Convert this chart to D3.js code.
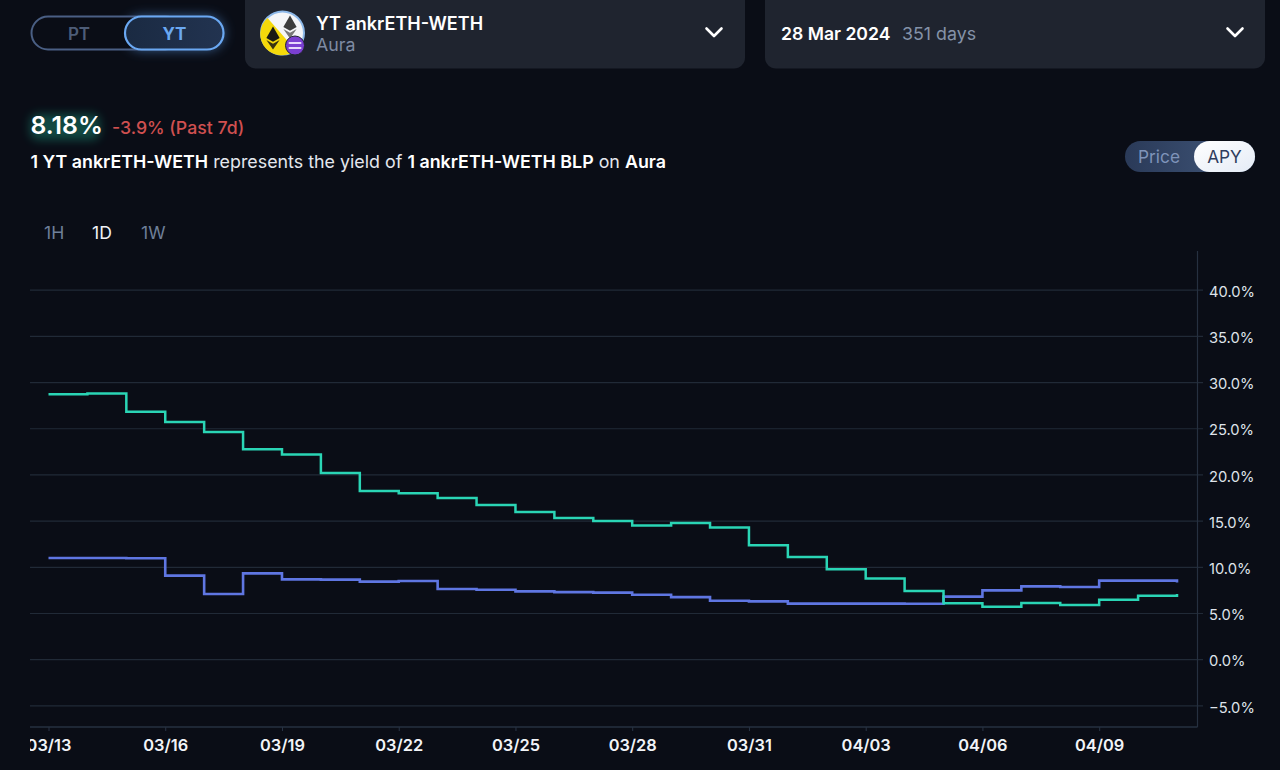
<!DOCTYPE html>
<html><head><meta charset="utf-8">
<script src="https://cdn.jsdelivr.net/npm/d3@7"></script>
<style>
html,body{margin:0;padding:0;background:#0a0d16;overflow:hidden}
svg{display:block}
text{font-family:Inter,"Noto Sans",sans-serif}
.yaxis text{font-size:14.7px;fill:#dfe3ea;font-weight:400}
.xaxis text{font-size:16.4px;fill:#f2f4f8;font-weight:600}
</style></head><body>
<svg id="c" width="1280" height="770" xmlns="http://www.w3.org/2000/svg"></svg>
<script>
const days=["2024-03-13","2024-03-14","2024-03-15","2024-03-16","2024-03-17","2024-03-18","2024-03-19","2024-03-20","2024-03-21","2024-03-22","2024-03-23","2024-03-24","2024-03-25","2024-03-26","2024-03-27","2024-03-28","2024-03-29","2024-03-30","2024-03-31","2024-04-01","2024-04-02","2024-04-03","2024-04-04","2024-04-05","2024-04-06","2024-04-07","2024-04-08","2024-04-09","2024-04-10","2024-04-11"];
const impliedApy=[28.74,28.82,26.83,25.74,24.66,22.78,22.21,20.22,18.27,18.02,17.51,16.75,15.99,15.34,15.02,14.52,14.80,14.30,12.38,11.12,9.78,8.78,7.43,6.10,5.74,6.13,5.92,6.50,6.93,7.11];
const underlyingApy=[11.01,11.01,10.98,9.10,7.11,9.35,8.70,8.67,8.45,8.52,7.65,7.58,7.40,7.32,7.26,7.04,6.78,6.39,6.32,6.07,6.07,6.07,6.05,6.83,7.51,7.94,7.87,8.56,8.56,8.37];
const yTicks=[-5,0,5,10,15,20,25,30,35,40];
const xTicks=["2024-03-13","2024-03-16","2024-03-19","2024-03-22","2024-03-25","2024-03-28","2024-03-31","2024-04-03","2024-04-06","2024-04-09"];
const timeframes=["1H","1D","1W"];

const parse=d3.utcParse("%Y-%m-%d");
const svg=d3.select("#c");
const defs=svg.append("defs");
function grad(id,stops,x2=1,y2=0){const g=defs.append("linearGradient").attr("id",id).attr("x1",0).attr("y1",0).attr("x2",x2).attr("y2",y2);
  stops.forEach(([o,c])=>g.append("stop").attr("offset",o).attr("stop-color",c));}
grad("pill",[[0,"#1a2a42"],[1,"#223350"]]);
grad("tog",[[0,"#2a3a58"],[1,"#42587c"]]);
grad("apy",[[0,"#ffffff"],[1,"#e4ebf6"]],1,1);
function blur(id,s){defs.append("filter").attr("id",id).attr("x","-50%").attr("y","-80%").attr("width","200%").attr("height","260%").append("feGaussianBlur").attr("stdDeviation",s);}
blur("g6",6);blur("g4",5);

// Chrome: cards
svg.append("rect").attr("x",245).attr("y",-20).attr("width",500).attr("height",88.5).attr("rx",11).attr("fill","#1f242f");
svg.append("rect").attr("x",765).attr("y",-20).attr("width",500).attr("height",88.5).attr("rx",11).attr("fill","#1f242f");

// PT/YT toggle
svg.append("rect").attr("x",125).attr("y",16).attr("width",99).attr("height",34).attr("rx",17).attr("fill","#5ea2f0").attr("opacity",.55).attr("filter","url(#g6)");
svg.append("rect").attr("x",31.5).attr("y",16.5).attr("width",150).attr("height",33).attr("rx",16.5).attr("fill","#0a0d16").attr("stroke","#4a5f84").attr("stroke-width",2);
svg.append("rect").attr("x",125).attr("y",16.5).attr("width",98.5).attr("height",33).attr("rx",16.5).attr("fill","url(#pill)").attr("stroke","#6aa8f2").attr("stroke-width",2.2);
const txt=(x,y,s,size,fill,weight=400,anchor="start")=>svg.append("text").attr("x",x).attr("y",y).attr("font-size",size).attr("fill",fill).attr("font-weight",weight).attr("text-anchor",anchor).text(s);
txt(79,39.5,"PT",17,"#4d5c77",600,"middle");
txt(174.5,39.5,"YT",17,"#6aa8f2",700,"middle");

// Token icon
const ic=svg.append("g").attr("transform","translate(282.5,33)");
ic.append("circle").attr("r",21.5).attr("fill","#f4f5f7").attr("stroke","#8db8e8").attr("stroke-width",2);
ic.append("path").attr("d","M-15,-15 L13,17 A20.6,20.6 0 0 1 -15,-15 Z").attr("fill","#f5d90a");
function eth(dx,dy,c1,c2,k){const g=ic.append("g").attr("transform",`translate(${dx},${dy}) scale(${k})`);
  g.append("path").attr("d","M0,-12 L7,0 L0,4 L-7,0 Z").attr("fill",c1);
  g.append("path").attr("d","M0,6 L7,2 L0,12 L-7,2 Z").attr("fill",c2);}
eth(-9.5,5,"#1b1b14","#3a3410",.95);
eth(7.5,-6,"#3c3c3c","#777",.95);
ic.append("circle").attr("cx",12.5).attr("cy",12.5).attr("r",9.5).attr("fill","#7a3fd0").attr("stroke","#1f242f").attr("stroke-width",1);
ic.append("rect").attr("x",6).attr("y",9).attr("width",13).attr("height",2).attr("rx",1).attr("fill","#e6d8fb");
ic.append("rect").attr("x",6).attr("y",14).attr("width",13).attr("height",2).attr("rx",1).attr("fill","#e6d8fb");

txt(316,29.5,"YT ankrETH-WETH",18,"#ffffff",600);
txt(316,50.5,"Aura",17.8,"#7e8ba3",400);
txt(781,39.5,"28 Mar 2024",17.6,"#ffffff",600);
txt(902,39.5,"351 days",17.8,"#8492a8",400);
const chev=x=>svg.append("path").attr("d",`M${x-7.5},28.5 L${x},36 L${x+7.5},28.5`).attr("fill","none").attr("stroke","#fff").attr("stroke-width",2.6).attr("stroke-linecap","round").attr("stroke-linejoin","round");
chev(714);chev(1235);

// Headline
svg.append("rect").attr("x",30).attr("y",114).attr("width",70).attr("height",26).attr("rx",8).attr("fill","#23d2a8").attr("opacity",.3).attr("filter","url(#g4)");
txt(30.5,134,"8.18%",24.8,"#ffffff",600);
txt(112,134,"-3.9% (Past 7d)",17.7,"#d05050",500);
const desc=svg.append("text").attr("x",30.5).attr("y",167.5).attr("font-size",17.85).attr("fill","#e4e7ee");
[["1 YT ankrETH-WETH",600,"#fff"],[" represents the yield of ",400,"#e4e7ee"],["1 ankrETH-WETH BLP",600,"#fff"],[" on ",400,"#e4e7ee"],["Aura",600,"#fff"]]
 .forEach(([s,w,f])=>desc.append("tspan").attr("font-weight",w).attr("fill",f).attr("xml:space","preserve").style("white-space","pre").text(s));

// Price / APY toggle
svg.append("rect").attr("x",1125).attr("y",141).attr("width",130).attr("height",31).attr("rx",15.5).attr("fill","url(#tog)");
svg.append("rect").attr("x",1194).attr("y",141).attr("width",61).attr("height",31).attr("rx",15.5).attr("fill","url(#apy)");
txt(1159,163,"Price",17.3,"#7f94ba",400,"middle");
txt(1224.5,163,"APY",17.3,"#2f3d5e",400,"middle");

// Timeframes
[[44,"#6e7f99"],[92,"#f0f2f6"],[141,"#6e7f99"]].forEach(([x,c],i)=>txt(x,238.5,timeframes[i],17.6,c,400));

// Scales
const x=d3.scaleUtc().domain([parse(days[0]),parse(days[29])]).range([48.5,1177]);
const y=d3.scaleLinear().domain([-5,40]).range([705.9,290.2]);

// Y axis with grid
const yAxis=d3.axisRight(y).tickValues(yTicks).tickSize(0).tickPadding(0)
  .tickFormat(d=>(d<0?"\u2212":"")+Math.abs(d).toFixed(1)+"%");
const gy=svg.append("g").attr("class","yaxis").attr("transform","translate(1209,0)").call(yAxis);
gy.select(".domain").remove();
gy.selectAll("text").attr("x",0).attr("dy","0.42em");
svg.append("g").selectAll("line").data(yTicks).join("line")
  .attr("x1",30).attr("x2",1203).attr("y1",d=>y(d)).attr("y2",d=>y(d))
  .attr("stroke","#212a37").attr("stroke-width",1.2);
svg.append("line").attr("x1",1197.5).attr("x2",1197.5).attr("y1",251).attr("y2",727).attr("stroke","#263040").attr("stroke-width",1.2);

// X axis
const xAxis=d3.axisBottom(x).tickValues(xTicks.map(parse)).tickSize(4).tickPadding(8).tickFormat(d3.utcFormat("%m/%d"));
defs.append("clipPath").attr("id","xclip").append("rect").attr("x",30).attr("y",-10).attr("width",1250).attr("height",60);
const gx=svg.append("g").attr("class","xaxis").attr("transform","translate(0,727)").attr("clip-path","url(#xclip)").call(xAxis);
gx.select(".domain").remove();
gx.selectAll("line").attr("stroke","#2a3546").attr("stroke-width",1);
svg.append("line").attr("x1",30).attr("x2",1197.5).attr("y1",727).attr("y2",727).attr("stroke","#263040").attr("stroke-width",1.4);

// Series
const line=d3.line().x((d,i)=>x(parse(days[i]))).y(d=>y(d)).curve(d3.curveStepAfter);
svg.append("path").datum(underlyingApy).attr("d",line).attr("fill","none").attr("stroke","#5f76e2").attr("stroke-width",2.6);
svg.append("path").datum(impliedApy).attr("d",line).attr("fill","none").attr("stroke","#2ad5b5").attr("stroke-width",2.5);
</script></body></html>
